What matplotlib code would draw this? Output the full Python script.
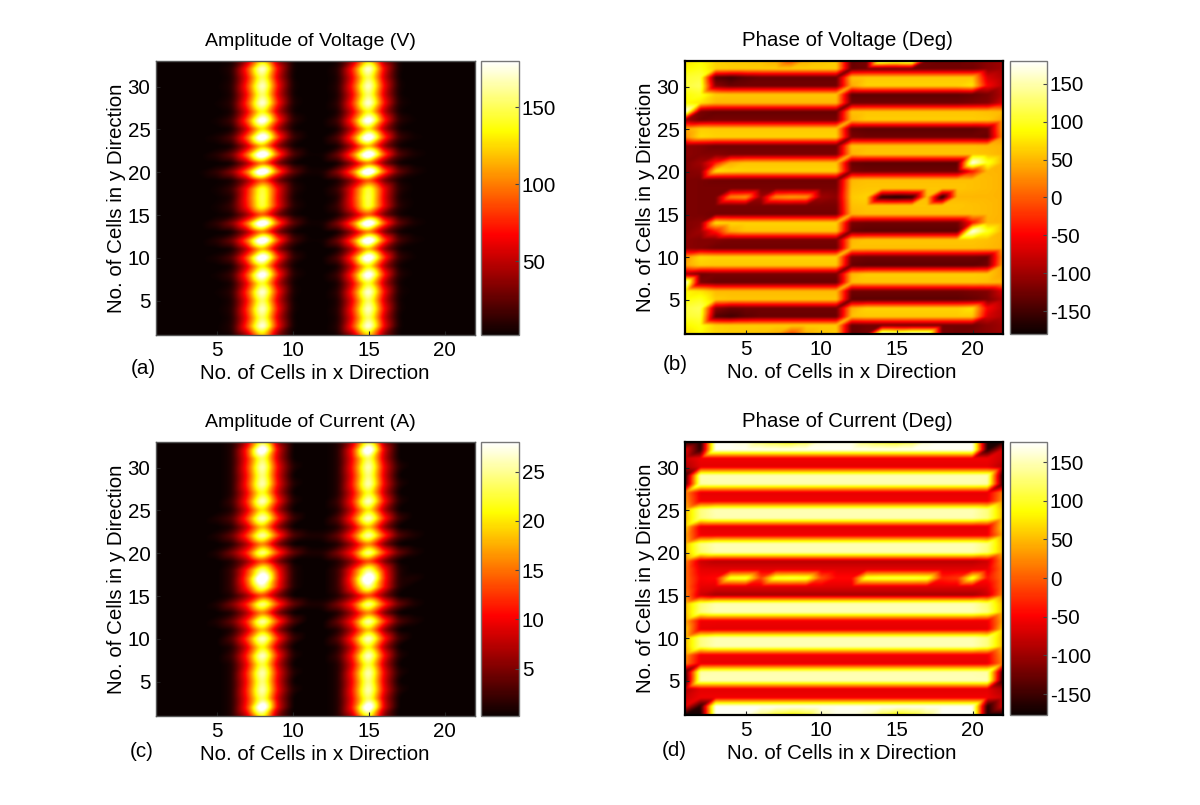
import numpy as np
import matplotlib
matplotlib.use('Agg')
import matplotlib.pyplot as plt
import matplotlib.tri as mtri

plt.rcParams['font.family'] = ['Liberation Sans', 'DejaVu Sans']
plt.rcParams['axes.unicode_minus'] = False

# 每行 22 列, 第一行是 y=33, 最后一行是 y=1
voltage_amp = [
    [1,1,1,1,2,4,45,135,35,2,1,1,4,45,135,35,2,1,1,1,1,1],
    [1,1,1,1,2,8,80,195,65,3,1,1,8,80,195,65,3,1,1,1,1,1],
    [1,1,1,1,1,6,68,165,55,2,1,1,6,68,165,55,2,1,1,1,1,1],
    [1,1,1,1,2,8,80,190,68,4,1,1,8,80,190,68,4,1,1,1,1,1],
    [1,1,1,1,1,6,68,170,58,3,1,1,6,68,170,58,3,1,1,1,1,1],
    [1,1,1,1,3,10,82,195,72,6,1,1,10,82,195,72,6,2,1,1,1,1],
    [1,1,1,1,1,5,62,150,50,3,1,1,5,62,150,50,3,1,1,1,1,1],
    [1,1,1,1,4,15,88,215,78,10,2,2,15,88,215,78,10,3,1,1,1,1],
    [1,1,1,1,1,4,56,140,45,3,1,1,4,56,140,45,3,1,1,1,1,1],
    [1,1,1,2,6,20,92,225,84,14,2,2,20,92,225,84,14,4,2,1,1,1],
    [1,1,1,1,1,4,50,125,38,3,1,1,4,50,125,38,3,1,1,1,1,1],
    [1,1,1,2,9,28,98,232,90,20,3,3,28,98,232,90,20,6,2,1,1,1],
    [1,1,1,1,1,3,42,105,32,3,1,1,3,42,105,32,3,1,1,1,1,1],
    [1,1,1,3,12,36,100,235,94,26,5,5,36,100,235,94,26,7,2,1,1,1],
    [1,1,1,1,2,5,40,95,30,4,1,1,5,40,95,30,4,1,1,1,1,1],
    [1,1,1,1,4,14,72,160,66,9,2,2,14,72,160,66,9,2,1,1,1,1],
    [1,1,1,1,2,7,76,165,62,5,1,1,7,76,165,62,5,2,1,1,1,1],
    [1,1,1,1,4,14,72,162,66,9,2,2,14,72,162,66,9,2,1,1,1,1],
    [1,1,1,1,2,5,40,95,30,4,1,1,5,40,95,30,4,1,1,1,1,1],
    [1,1,1,2,11,34,98,232,92,24,4,4,34,98,232,92,24,6,2,1,1,1],
    [1,1,1,1,1,3,42,105,32,3,1,1,3,42,105,32,3,1,1,1,1,1],
    [1,1,1,2,9,28,96,230,88,18,3,3,28,96,230,88,18,5,2,1,1,1],
    [1,1,1,1,1,4,50,125,38,3,1,1,4,50,125,38,3,1,1,1,1,1],
    [1,1,1,2,6,20,90,225,82,12,2,2,20,90,225,82,12,3,1,1,1,1],
    [1,1,1,1,1,4,58,145,45,3,1,1,4,58,145,45,3,1,1,1,1,1],
    [1,1,1,1,4,14,86,215,76,8,2,2,14,86,215,76,8,2,1,1,1,1],
    [1,1,1,1,1,5,64,155,50,3,1,1,5,64,155,50,3,1,1,1,1,1],
    [1,1,1,1,3,10,82,195,70,5,1,1,10,82,195,70,5,2,1,1,1,1],
    [1,1,1,1,1,6,68,168,56,3,1,1,6,68,168,56,3,1,1,1,1,1],
    [1,1,1,1,2,8,80,190,68,4,1,1,8,80,190,68,4,1,1,1,1,1],
    [1,1,1,1,1,6,70,168,55,2,1,1,6,70,168,55,2,1,1,1,1,1],
    [1,1,1,1,2,8,84,198,66,3,1,1,8,84,198,66,3,1,1,1,1,1],
    [1,1,1,1,2,4,45,135,35,2,1,1,4,45,135,35,2,1,1,1,1,1],
]

current_amp = [
    [0,0,0,0,0,1,8,24,5,0,0,0,1,8,24,5,0,0,0,0,0,0],
    [0,0,0,0,0,1,12,35,9,0,0,0,1,12,35,9,0,0,0,0,0,0],
    [0,0,0,0,0,1,11,26,8,0,0,0,1,11,26,8,0,0,0,0,0,0],
    [0,0,0,0,0,1,12,29,10,1,0,0,1,12,29,10,1,0,0,0,0,0],
    [0,0,0,0,0,1,11,27,9,0,0,0,1,11,27,9,0,0,0,0,0,0],
    [0,0,0,0,0,1,12,29,10,1,0,0,1,12,29,10,1,0,0,0,0,0],
    [0,0,0,0,0,1,10,24,8,0,0,0,1,10,24,8,0,0,0,0,0,0],
    [0,0,0,0,0,2,12,30,11,1,0,0,2,12,30,11,1,0,0,0,0,0],
    [0,0,0,0,0,1,9,22,7,0,0,0,1,9,22,7,0,0,0,0,0,0],
    [0,0,0,0,1,3,13,30,12,2,0,0,3,13,30,12,2,0,0,0,0,0],
    [0,0,0,0,0,1,8,20,6,0,0,0,1,8,20,6,0,0,0,0,0,0],
    [0,0,0,0,1,4,13,29,13,3,1,1,4,13,29,13,3,1,0,0,0,0],
    [0,0,0,0,0,1,7,17,5,0,0,0,1,7,17,5,0,0,0,0,0,0],
    [0,0,0,0,1,5,12,28,13,4,1,1,5,12,28,13,4,1,0,0,0,0],
    [0,0,0,0,0,1,6,14,5,0,0,0,1,6,14,5,0,0,0,0,0,0],
    [0,0,0,0,0,2,12,27,11,1,0,0,2,12,27,11,1,0,0,0,0,0],
    [0,0,0,0,0,2,14,36,12,1,0,0,2,14,36,12,1,1,0,0,0,0],
    [0,0,0,0,0,2,12,28,11,1,0,0,2,12,28,11,1,0,0,0,0,0],
    [0,0,0,0,0,1,6,14,5,0,0,0,1,6,14,5,0,0,0,0,0,0],
    [0,0,0,0,1,5,12,28,13,4,1,1,5,12,28,13,4,1,0,0,0,0],
    [0,0,0,0,0,1,7,17,5,0,0,0,1,7,17,5,0,0,0,0,0,0],
    [0,0,0,0,1,4,12,29,13,3,0,0,4,12,29,13,3,1,0,0,0,0],
    [0,0,0,0,0,1,8,20,6,0,0,0,1,8,20,6,0,0,0,0,0,0],
    [0,0,0,0,0,3,13,30,12,2,0,0,3,13,30,12,2,0,0,0,0,0],
    [0,0,0,0,0,1,9,23,7,0,0,0,1,9,23,7,0,0,0,0,0,0],
    [0,0,0,0,0,2,12,30,11,1,0,0,2,12,30,11,1,0,0,0,0,0],
    [0,0,0,0,0,1,10,25,8,0,0,0,1,10,25,8,0,0,0,0,0,0],
    [0,0,0,0,0,1,12,29,10,1,0,0,1,12,29,10,1,0,0,0,0,0],
    [0,0,0,0,0,1,11,27,9,0,0,0,1,11,27,9,0,0,0,0,0,0],
    [0,0,0,0,0,1,12,29,10,1,0,0,1,12,29,10,1,0,0,0,0,0],
    [0,0,0,0,0,1,11,26,8,0,0,0,1,11,26,8,0,0,0,0,0,0],
    [0,0,0,0,0,1,12,35,9,0,0,0,1,12,35,9,0,0,0,0,0,0],
    [0,0,0,0,0,1,8,24,5,0,0,0,1,8,24,5,0,0,0,0,0,0],
]

voltage_phase = [
    [70,85,65,60,58,55,45,-10,45,55,60,-130,-120,178,160,178,-120,-125,-125,-120,-110,-100],
    [85,95,65,62,62,62,62,62,62,62,62,-130,-125,-125,-125,-125,-125,-125,-125,-125,-110,-100],
    [105,110,-140,-150,-135,-128,-128,-128,-128,-128,-128,55,60,60,60,60,60,60,60,60,-70,-90],
    [110,120,-110,-128,-125,-125,-125,-125,-125,-125,-125,45,65,65,65,65,65,65,65,75,-50,-85],
    [90,100,62,58,58,58,58,58,58,58,58,-135,-135,-135,-135,-135,-135,-135,-135,-130,-120,-90],
    [85,75,52,52,52,52,52,52,52,52,52,-125,-125,-125,-125,-125,-125,-125,-125,-120,-115,-70],
    [178,-120,-130,-130,-130,-130,-130,-130,-130,-130,-130,55,58,58,58,58,58,58,58,58,55,50],
    [-100,-125,-120,-120,-120,-120,-120,-120,-120,-120,-120,50,62,62,62,62,62,62,62,62,60,40],
    [40,62,60,60,60,60,60,60,60,60,60,-130,-135,-135,-135,-135,-135,-135,-135,-135,-125,40],
    [30,70,65,65,65,65,65,65,65,65,65,-120,-125,-125,-125,-125,-125,-125,-125,-125,-130,30],
    [-110,-115,-125,-125,-125,-125,-125,-125,-125,-125,-125,55,55,55,55,55,55,55,55,55,52,48],
    [-110,-115,-115,-120,-120,-120,-120,-120,-120,-120,-120,50,58,58,58,58,58,58,58,58,55,48],
    [-115,-100,-35,45,58,58,58,58,58,58,58,-130,-135,-135,-135,-135,-135,-135,-135,178,100,48],
    [-115,-110,75,68,65,65,65,65,65,65,65,-120,-125,-125,-125,-125,-125,-125,-125,-40,50,48],
    [-118,-120,-125,-125,-125,-125,-125,-125,-125,-125,-125,50,55,55,55,55,55,55,55,55,52,48],
    [-118,-120,-120,-120,-120,-120,-120,-120,-120,-120,-120,55,58,58,58,58,58,58,58,55,52,48],
    [-118,-120,-120,25,35,-100,30,40,35,-100,-110,60,65,-165,-175,-165,55,-170,50,50,50,48],
    [-118,-120,-120,-120,-120,-120,-120,-120,-120,-120,-120,55,58,58,58,58,58,58,58,55,52,48],
    [-118,-120,-125,-125,-125,-125,-125,-125,-125,-125,-125,50,55,55,55,55,55,55,55,55,52,48],
    [-115,-110,75,68,65,65,65,65,65,65,65,-120,-125,-125,-125,-125,-125,-125,-125,-40,50,48],
    [-115,-100,-35,45,58,58,58,58,58,58,58,-130,-135,-135,-135,-135,-135,-135,-135,178,100,48],
    [-110,-115,-115,-120,-120,-120,-120,-120,-120,-120,-120,50,58,58,58,58,58,58,58,58,55,48],
    [-110,-115,-125,-125,-125,-125,-125,-125,-125,-125,-125,55,55,55,55,55,55,55,55,55,52,48],
    [30,70,65,65,65,65,65,65,65,65,65,-120,-125,-125,-125,-125,-125,-125,-125,-125,-130,30],
    [40,62,60,60,60,60,60,60,60,60,60,-130,-135,-135,-135,-135,-135,-135,-135,-135,-125,40],
    [-100,-125,-120,-120,-120,-120,-120,-120,-120,-120,-120,50,62,62,62,62,62,62,62,62,60,40],
    [178,-120,-130,-130,-130,-130,-130,-130,-130,-130,-130,55,58,58,58,58,58,58,58,58,55,50],
    [85,75,52,52,52,52,52,52,52,52,52,-125,-125,-125,-125,-125,-125,-125,-125,-120,-115,-70],
    [90,100,62,58,58,58,58,58,58,58,58,-135,-135,-135,-135,-135,-135,-135,-135,-130,-120,-90],
    [110,120,-110,-128,-125,-125,-125,-125,-125,-125,-125,45,65,65,65,65,65,65,65,75,-50,-85],
    [105,110,-140,-150,-135,-128,-128,-128,-128,-128,-128,55,60,60,60,60,60,60,60,60,-70,-90],
    [85,95,65,62,62,62,62,62,62,62,62,-130,-125,-125,-125,-125,-125,-125,-125,-125,-110,-100],
    [70,85,65,60,58,55,45,-10,45,55,60,-130,-120,178,160,178,178,-120,-125,-120,-110,-100],
]

current_phase = [
    [-170,-170,170,170,160,120,100,85,110,160,165,165,120,100,90,110,160,170,170,170,-170,-170],
    [-60,-160,172,172,172,172,172,172,172,172,172,172,172,172,172,172,172,172,172,172,-165,-70],
    [-75,-55,-55,-55,-55,-55,-55,-55,-55,-55,-55,-55,-55,-55,-55,-55,-55,-55,-55,-55,-55,-75],
    [-90,-62,-62,-62,-62,-62,-62,-62,-62,-62,-62,-62,-62,-62,-62,-62,-62,-62,-62,-62,-62,-90],
    [-150,150,150,150,150,150,150,150,150,150,150,150,150,150,150,150,150,150,150,150,150,-150],
    [-140,145,148,148,148,148,148,148,148,148,148,148,148,148,148,148,148,148,148,148,145,-140],
    [20,-60,-60,-60,-60,-60,-60,-60,-60,-60,-60,-60,-60,-60,-60,-60,-60,-60,-60,-60,-60,20],
    [30,-55,-55,-55,-55,-55,-55,-55,-55,-55,-55,-55,-55,-55,-55,-55,-55,-55,-55,-55,-55,30],
    [50,130,150,150,150,150,150,150,150,150,150,150,150,150,150,150,150,150,150,150,130,50],
    [50,130,148,148,148,148,148,148,148,148,148,148,148,148,148,148,148,148,148,148,130,50],
    [60,-60,-62,-62,-62,-62,-62,-62,-62,-62,-62,-62,-62,-62,-62,-62,-62,-62,-62,-62,-60,60],
    [40,-55,-55,-55,-55,-55,-55,-55,-55,-55,-55,-55,-55,-55,-55,-55,-55,-55,-55,-55,-55,40],
    [50,130,150,150,150,150,150,150,150,150,150,150,150,150,150,150,150,150,150,150,130,50],
    [50,125,148,148,148,148,148,148,148,148,148,148,148,148,148,148,148,148,148,148,125,50],
    [20,-75,-85,-85,-85,-85,-85,-85,-85,-85,-85,-85,-85,-85,-85,-85,-85,-85,-85,-85,-75,20],
    [10,-60,-62,-62,-62,-62,-62,-62,-62,-62,-62,-62,-62,-62,-62,-62,-62,-62,-62,-62,-60,10],
    [10,-50,-45,105,110,-10,110,115,110,-5,-45,-45,110,115,115,115,110,-30,-20,105,-40,10],
    [10,-60,-62,-62,-62,-62,-62,-62,-62,-62,-62,-62,-62,-62,-62,-62,-62,-62,-62,-62,-60,10],
    [20,-75,-95,-95,-95,-95,-95,-95,-95,-95,-95,-95,-95,-95,-95,-95,-95,-95,-95,-95,-75,20],
    [50,125,148,148,148,148,148,148,148,148,148,148,148,148,148,148,148,148,148,148,125,50],
    [50,130,150,150,150,150,150,150,150,150,150,150,150,150,150,150,150,150,150,150,130,50],
    [40,-55,-55,-55,-55,-55,-55,-55,-55,-55,-55,-55,-55,-55,-55,-55,-55,-55,-55,-55,-55,40],
    [60,-60,-62,-62,-62,-62,-62,-62,-62,-62,-62,-62,-62,-62,-62,-62,-62,-62,-62,-62,-60,60],
    [50,130,148,148,148,148,148,148,148,148,148,148,148,148,148,148,148,148,148,148,130,50],
    [50,130,150,150,150,150,150,150,150,150,150,150,150,150,150,150,150,150,150,150,130,50],
    [30,-55,-55,-55,-55,-55,-55,-55,-55,-55,-55,-55,-55,-55,-55,-55,-55,-55,-55,-55,-55,30],
    [20,-60,-60,-60,-60,-60,-60,-60,-60,-60,-60,-60,-60,-60,-60,-60,-60,-60,-60,-60,-60,20],
    [-140,145,148,148,148,148,148,148,148,148,148,148,148,148,148,148,148,148,148,148,145,-140],
    [-150,150,150,150,150,150,150,150,150,150,150,150,150,150,150,150,150,150,150,150,150,-150],
    [-90,-62,-62,-62,-62,-62,-62,-62,-62,-62,-62,-62,-62,-62,-62,-62,-62,-62,-62,-62,-62,-90],
    [-75,-55,-55,-55,-55,-55,-55,-55,-55,-55,-55,-55,-55,-55,-55,-55,-55,-55,-55,-55,-55,-75],
    [-60,-160,172,172,172,172,172,172,172,172,172,172,172,172,172,172,172,172,172,172,-165,-70],
    [-170,-170,170,170,170,130,100,85,100,150,165,165,150,110,85,100,130,170,170,170,-170,-170],
]

titles = ['Amplitude of Voltage (V)', 'Phase of Voltage (Deg)',
          'Amplitude of Current (A)', 'Phase of Current (Deg)']
letters = ['(a)', '(b)', '(c)', '(d)']
x_ticks = [5, 10, 15, 20]
y_ticks = [5, 10, 15, 20, 25, 30]
color_ranges = [(2, 180), (-180, 180), (0.2, 28), (-177, 176)]
color_ticks = [[50, 100, 150],
               [-150, -100, -50, 0, 50, 100, 150],
               [5, 10, 15, 20, 25],
               [-150, -100, -50, 0, 50, 100, 150]]

W, H = 1200, 805
STEP = 0.05


# 像素坐标 -> figure 坐标
def box(left, top, right, bottom):
    return [left / W, 1 - bottom / H, (right - left) / W, (bottom - top) / H]


# 一维高斯平滑, 两端用边缘值填充
def soften(a, sigma, axis):
    r = int(4 * sigma / STEP)
    k = np.exp(-0.5 * (np.arange(-r, r + 1) * STEP / sigma) ** 2)
    k /= k.sum()
    return np.apply_along_axis(
        lambda v: np.convolve(np.pad(v, r, mode='edge'), k, mode='valid'), axis, a)


# 和 MATLAB shading interp 一样按三角形线性着色, 对角线从左下到右上
def shade(z, sigma_x, sigma_y):
    n_rows, n_cols = z.shape
    xx, yy = np.meshgrid(np.arange(1, n_cols + 1), np.arange(1, n_rows + 1))
    idx = np.arange(n_rows * n_cols).reshape(n_rows, n_cols)
    ll, lr = idx[:-1, :-1].ravel(), idx[:-1, 1:].ravel()
    ul, ur = idx[1:, :-1].ravel(), idx[1:, 1:].ravel()
    tris = np.vstack([np.c_[ll, lr, ur], np.c_[ll, ur, ul]])
    tri = mtri.Triangulation(xx.ravel().astype(float), yy.ravel().astype(float), tris)
    fx, fy = np.meshgrid(np.linspace(1, n_cols, int((n_cols - 1) / STEP) + 1),
                         np.linspace(1, n_rows, int((n_rows - 1) / STEP) + 1))
    img = np.ma.filled(mtri.LinearTriInterpolator(tri, z.ravel())(fx, fy), np.nan)
    img = np.nan_to_num(img, nan=float(np.median(z)))
    img = soften(img, sigma_x, 1)
    return soften(img, sigma_y, 0)


def draw_panel(fig, data, title, letter, crange, cticks, ax_box, cax_box, letter_xy,
               frame, blur, title_x, title_size, label_x):
    ax = fig.add_axes(box(*ax_box))
    z = np.flipud(np.array(data, dtype=float))
    img = shade(z, blur[0], blur[1])
    mesh = ax.imshow(img, origin='lower', extent=(1, 22, 1, 33), aspect='auto',
                     cmap='hot', vmin=crange[0], vmax=crange[1], interpolation='bilinear')
    ax.set_xlim(1, 22)
    ax.set_ylim(1, 33)
    ax.set_xticks(x_ticks)
    ax.set_yticks(y_ticks)
    ax.tick_params(direction='in', length=3, labelsize=14.8, pad=4, color='#222222')
    for s in ax.spines.values():
        s.set_color(frame[0])
        s.set_linewidth(frame[1])
    ax.set_title(title, fontsize=title_size, pad=11, x=title_x)
    ax.set_xlabel('No. of Cells in x Direction', fontsize=14.8, labelpad=3, x=label_x)
    ax.set_ylabel('No. of Cells in y Direction', fontsize=14.8, labelpad=1)

    cax = fig.add_axes(box(*cax_box))
    cb = fig.colorbar(mesh, cax=cax)
    cb.set_ticks(cticks)
    cb.outline.set_edgecolor('#777777')
    cb.outline.set_linewidth(1.0)
    cax.tick_params(direction='in', length=3, labelsize=14.8, pad=2, color='#444444')

    fig.text(letter_xy[0] / W, 1 - letter_xy[1] / H, letter, fontsize=14.8,
             ha='center', va='center')


def main():
    fig = plt.figure(figsize=(W / 100, H / 100), dpi=100)
    data = [voltage_amp, voltage_phase, current_amp, current_phase]
    ax_boxes = [(156, 61, 475, 335), (685, 61, 1003, 334),
                (156, 442, 475, 716), (685, 442, 1003, 715)]
    cax_boxes = [(481, 61, 519, 335), (1010, 61, 1047, 334),
                 (481, 442, 519, 716), (1010, 442, 1047, 715)]
    letter_xy = [(143, 368), (675, 364), (142, 751), (674, 750)]
    frames = [('#555555', 1.0), ('#000000', 1.6), ('#555555', 1.0), ('#000000', 1.6)]
    blurs = [(0.22, 0.13), (0.07, 0.09), (0.22, 0.13), (0.07, 0.09)]
    title_xs = [0.484, 0.51, 0.484, 0.51]
    title_sizes = [14, 14.7, 14, 14.7]
    label_xs = [0.498, 0.494, 0.498, 0.494]
    for i in range(4):
        draw_panel(fig, data[i], titles[i], letters[i], color_ranges[i], color_ticks[i],
                   ax_boxes[i], cax_boxes[i], letter_xy[i], frames[i], blurs[i],
                   title_xs[i], title_sizes[i], label_xs[i])
    fig.savefig('out.png', dpi=100)


if __name__ == "__main__":
    main()
